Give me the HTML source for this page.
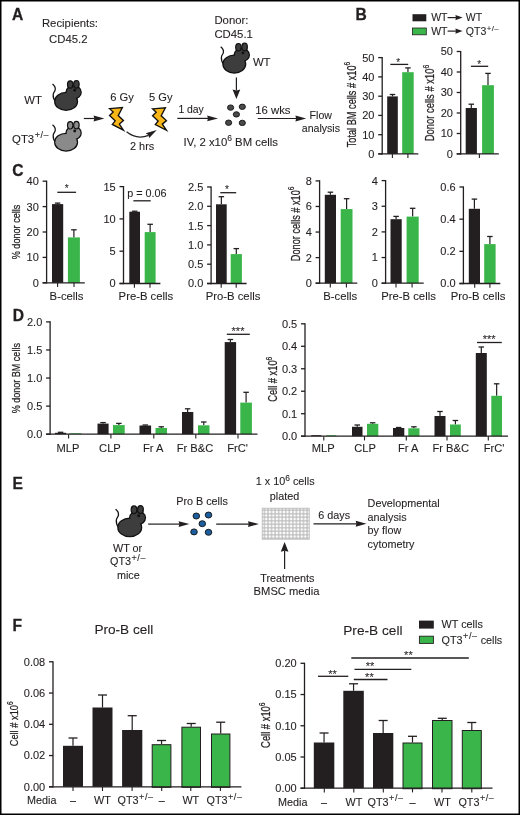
<!DOCTYPE html>
<html><head><meta charset="utf-8"><style>
html,body{margin:0;padding:0;background:#fff;}
svg{display:block;will-change:transform;}
text{font-family:"Liberation Sans", sans-serif;fill:#231f20;stroke:#231f20;stroke-width:0.1px;}
</style></head><body>
<svg width="520" height="815" viewBox="0 0 520 815">
<rect x="0.75" y="0.75" width="518.5" height="813.5" fill="none" stroke="#000" stroke-width="1.5"/>
<text transform="translate(12.0,19.7) scale(1,1)" font-size="15.6" font-weight="bold" style="stroke-width:0.3px">A</text>
<text transform="translate(355.5,19.7) scale(1,1)" font-size="15.6" font-weight="bold" style="stroke-width:0.3px">B</text>
<text transform="translate(12.2,175.9) scale(1,1)" font-size="15.6" font-weight="bold" style="stroke-width:0.3px">C</text>
<text transform="translate(12.8,321.1) scale(1,1)" font-size="15.6" font-weight="bold" style="stroke-width:0.3px">D</text>
<text transform="translate(12.4,489.1) scale(1,1)" font-size="15.6" font-weight="bold" style="stroke-width:0.3px">E</text>
<text transform="translate(12.4,631) scale(1,1)" font-size="15.6" font-weight="bold" style="stroke-width:0.3px">F</text>
<text x="41.9" y="26.9" font-size="11.35" text-anchor="start" font-weight="normal" >Recipients:</text>
<text x="49" y="42.7" font-size="11.35" text-anchor="start" font-weight="normal" >CD45.2</text>
<text x="214.4" y="24" font-size="11.35" text-anchor="start" font-weight="normal" >Donor:</text>
<text x="214.4" y="37.5" font-size="11.35" text-anchor="start" font-weight="normal" >CD45.1</text>
<text x="252.9" y="66.3" font-size="11.35" text-anchor="start" font-weight="normal" >WT</text>
<text x="24.2" y="103.5" font-size="11.35" text-anchor="start" font-weight="normal" >WT</text>
<text x="12.1" y="142.7" font-size="11.35" text-anchor="start" font-weight="normal" >QT3<tspan font-size="9" dy="-4.6" dx="0.5" letter-spacing="0.6">+/–</tspan></text>
<text x="110.2" y="100.5" font-size="11.2" text-anchor="start" font-weight="normal" >6 Gy</text>
<text x="149.0" y="100.5" font-size="11.1" text-anchor="start" font-weight="normal" >5 Gy</text>
<text x="130" y="149.5" font-size="10.9" text-anchor="start" font-weight="normal" >2 hrs</text>
<text x="178.4" y="113.1" font-size="10.4" text-anchor="start" font-weight="normal" >1 day</text>
<text x="255.2" y="114.2" font-size="11.35" text-anchor="start" font-weight="normal" >16 wks</text>
<text x="309.6" y="118.7" font-size="10.55" text-anchor="start" font-weight="normal" >Flow</text>
<text x="301.8" y="132.3" font-size="10.55" text-anchor="start" font-weight="normal" >analysis</text>
<text x="183.5" y="146" font-size="11.35" text-anchor="start" font-weight="normal" >IV, 2 x10<tspan font-size="8.5" dy="-4.6">6</tspan><tspan dy="4.6"> BM cells</tspan></text>
<g transform="translate(52.5,84) scale(1.0)"><path d="M0,0 C2,1.5 3,4 2.7,5.8 C2.4,7.5 0.8,8.5 0.7,10.5 C0.5,12.5 0.8,15 3,17.2" fill="none" stroke="#111" stroke-width="1.25"/><ellipse cx="13.6" cy="17.4" rx="10.8" ry="8.3" fill="#111" stroke="#111" stroke-width="2.5"/><ellipse cx="21.1" cy="8.2" rx="7" ry="6" fill="#111" stroke="#111" stroke-width="2.5"/><ellipse cx="13.6" cy="17.4" rx="10.8" ry="8.3" fill="#3d3d3d"/><ellipse cx="21.1" cy="8.2" rx="7" ry="6" fill="#3d3d3d"/><ellipse cx="17.7" cy="0.5" rx="2.7" ry="3.7" fill="#3d3d3d" stroke="#111" stroke-width="1.2"/><ellipse cx="23.9" cy="0.3" rx="2.75" ry="3.8" fill="#3d3d3d" stroke="#111" stroke-width="1.2"/><circle cx="22.2" cy="6.2" r="1.45" fill="#111"/></g>
<g transform="translate(52.5,124.8) scale(1.0)"><path d="M0,0 C2,1.5 3,4 2.7,5.8 C2.4,7.5 0.8,8.5 0.7,10.5 C0.5,12.5 0.8,15 3,17.2" fill="none" stroke="#111" stroke-width="1.25"/><ellipse cx="13.6" cy="17.4" rx="10.8" ry="8.3" fill="#111" stroke="#111" stroke-width="2.5"/><ellipse cx="21.1" cy="8.2" rx="7" ry="6" fill="#111" stroke="#111" stroke-width="2.5"/><ellipse cx="13.6" cy="17.4" rx="10.8" ry="8.3" fill="#8a8a8a"/><ellipse cx="21.1" cy="8.2" rx="7" ry="6" fill="#8a8a8a"/><ellipse cx="17.7" cy="0.5" rx="2.7" ry="3.7" fill="#8a8a8a" stroke="#111" stroke-width="1.2"/><ellipse cx="23.9" cy="0.3" rx="2.75" ry="3.8" fill="#8a8a8a" stroke="#111" stroke-width="1.2"/><circle cx="22.2" cy="6.2" r="1.45" fill="#111"/></g>
<g transform="translate(220.7,46.7) scale(1.0)"><path d="M0,0 C2,1.5 3,4 2.7,5.8 C2.4,7.5 0.8,8.5 0.7,10.5 C0.5,12.5 0.8,15 3,17.2" fill="none" stroke="#111" stroke-width="1.25"/><ellipse cx="13.6" cy="17.4" rx="10.8" ry="8.3" fill="#111" stroke="#111" stroke-width="2.5"/><ellipse cx="21.1" cy="8.2" rx="7" ry="6" fill="#111" stroke="#111" stroke-width="2.5"/><ellipse cx="13.6" cy="17.4" rx="10.8" ry="8.3" fill="#3d3d3d"/><ellipse cx="21.1" cy="8.2" rx="7" ry="6" fill="#3d3d3d"/><ellipse cx="17.7" cy="0.5" rx="2.7" ry="3.7" fill="#3d3d3d" stroke="#111" stroke-width="1.2"/><ellipse cx="23.9" cy="0.3" rx="2.75" ry="3.8" fill="#3d3d3d" stroke="#111" stroke-width="1.2"/><circle cx="22.2" cy="6.2" r="1.45" fill="#111"/></g>
<path d="M109.56,108.64 L122.39,107.60 L118.21,115.58 L123.44,120.42 L119.35,124.03 L123.44,130.11 L112.32,124.42 L115.17,120.81 L109.56,115.58 L113.17,111.97 Z" fill="#f7b518" stroke="#111" stroke-width="1.35" stroke-linejoin="miter"/>
<path d="M152.56,108.84 L165.39,107.80 L161.21,115.78 L166.44,120.62 L162.35,124.23 L166.44,130.31 L155.32,124.62 L158.17,121.01 L152.56,115.78 L156.18,112.17 Z" fill="#f7b518" stroke="#111" stroke-width="1.35" stroke-linejoin="miter"/>
<line x1="83.8" y1="118.5" x2="94.60000000000001" y2="118.5" stroke="#231f20" stroke-width="1.2"/>
<path d="M104.4,118.5 L93.60000000000001,115.55 L94.30000000000001,118.5 L93.60000000000001,121.45 Z" fill="#231f20"/>
<line x1="177.3" y1="118.4" x2="208.2" y2="118.4" stroke="#231f20" stroke-width="1.2"/>
<path d="M218,118.4 L207.2,115.45 L207.89999999999998,118.4 L207.2,121.35000000000001 Z" fill="#231f20"/>
<line x1="257.8" y1="118.5" x2="296.4" y2="118.5" stroke="#231f20" stroke-width="1.2"/>
<path d="M306.2,118.5 L295.4,115.55 L296.09999999999997,118.5 L295.4,121.45 Z" fill="#231f20"/>
<line x1="236.4" y1="77.4" x2="236.4" y2="90.5" stroke="#231f20" stroke-width="1.2"/>
<path d="M236.4,99.1 L232.55,89.5 L236.4,90.5 L240.25,89.5 Z" fill="#231f20"/>
<path d="M126.6,131.8 Q136.5,140 148.6,135.4" fill="none" stroke="#231f20" stroke-width="1.2"/>
<path d="M156.8,130.1 L145.7,133.2 L148.4,134.9 L149.2,138.1 Z" fill="#231f20"/>
<ellipse cx="230.6" cy="107.6" rx="3.1" ry="2.7" fill="#4a4a4a" stroke="#111" stroke-width="0.9"/>
<ellipse cx="242.3" cy="106.8" rx="3.1" ry="2.7" fill="#4a4a4a" stroke="#111" stroke-width="0.9"/>
<ellipse cx="236.4" cy="114.4" rx="3.1" ry="2.7" fill="#4a4a4a" stroke="#111" stroke-width="0.9"/>
<ellipse cx="228.6" cy="122.7" rx="3.1" ry="2.7" fill="#4a4a4a" stroke="#111" stroke-width="0.9"/>
<ellipse cx="242.3" cy="122.9" rx="3.1" ry="2.7" fill="#4a4a4a" stroke="#111" stroke-width="0.9"/>
<rect x="412.5" y="14.2" width="13.800000000000011" height="7.100000000000001" fill="#231f20"/>
<rect x="412.5" y="28" width="13.800000000000011" height="6.799999999999997" fill="#39b54a" stroke="#231f20" stroke-width="0.8"/>
<text x="431.2" y="21.2" font-size="10.5" text-anchor="start" font-weight="normal" >WT</text>
<text x="465.8" y="21.2" font-size="10.5" text-anchor="start" font-weight="normal" >WT</text>
<path d="M447.6,17.6 L456,17.6" stroke="#231f20" stroke-width="1.2"/>
<path d="M462.6,17.6 L455.4,15 L455.9,17.6 L455.4,20.2 Z" fill="#231f20"/>
<text x="431.2" y="34.7" font-size="10.5" text-anchor="start" font-weight="normal" >WT</text>
<text x="465.8" y="34.7" font-size="10.5" text-anchor="start" font-weight="normal" >QT3<tspan font-size="7.8" dy="-4.2" dx="0.6" letter-spacing="0.35">+/–</tspan></text>
<path d="M447.6,31.1 L456,31.1" stroke="#231f20" stroke-width="1.2"/>
<path d="M462.6,31.1 L455.4,28.5 L455.9,31.1 L455.4,33.7 Z" fill="#231f20"/>
<line x1="392.5" y1="96.4" x2="392.5" y2="94.5" stroke="#231f20" stroke-width="1.2"/>
<line x1="389.75" y1="94.5" x2="395.25" y2="94.5" stroke="#231f20" stroke-width="1.3"/>
<rect x="387.2" y="96.4" width="10.600000000000023" height="57.5" fill="#231f20"/>
<line x1="407.95" y1="72.2" x2="407.95" y2="67.9" stroke="#231f20" stroke-width="1.2"/>
<line x1="405.2" y1="67.9" x2="410.7" y2="67.9" stroke="#231f20" stroke-width="1.3"/>
<rect x="402.2" y="72.2" width="11.5" height="81.7" fill="#39b54a"/>
<line x1="382.2" y1="57.0" x2="382.2" y2="154.55" stroke="#231f20" stroke-width="1.3"/>
<line x1="378.2" y1="57.6" x2="382.2" y2="57.6" stroke="#231f20" stroke-width="1.3"/>
<text x="374.4" y="61.5" font-size="11" text-anchor="end" font-weight="normal" >50</text>
<line x1="378.2" y1="76.9" x2="382.2" y2="76.9" stroke="#231f20" stroke-width="1.3"/>
<text x="374.4" y="80.80000000000001" font-size="11" text-anchor="end" font-weight="normal" >40</text>
<line x1="378.2" y1="96.2" x2="382.2" y2="96.2" stroke="#231f20" stroke-width="1.3"/>
<text x="374.4" y="100.10000000000001" font-size="11" text-anchor="end" font-weight="normal" >30</text>
<line x1="378.2" y1="115.4" x2="382.2" y2="115.4" stroke="#231f20" stroke-width="1.3"/>
<text x="374.4" y="119.30000000000001" font-size="11" text-anchor="end" font-weight="normal" >20</text>
<line x1="378.2" y1="134.7" x2="382.2" y2="134.7" stroke="#231f20" stroke-width="1.3"/>
<text x="374.4" y="138.6" font-size="11" text-anchor="end" font-weight="normal" >10</text>
<line x1="378.2" y1="153.9" x2="382.2" y2="153.9" stroke="#231f20" stroke-width="1.3"/>
<text x="374.4" y="157.8" font-size="11" text-anchor="end" font-weight="normal" >0</text>
<line x1="378.2" y1="153.9" x2="418.3" y2="153.9" stroke="#231f20" stroke-width="1.3"/>
<line x1="392.4" y1="153.9" x2="392.4" y2="158.1" stroke="#231f20" stroke-width="1.1"/>
<line x1="407.9" y1="153.9" x2="407.9" y2="158.1" stroke="#231f20" stroke-width="1.1"/>
<line x1="390.3" y1="64.4" x2="408.2" y2="64.4" stroke="#231f20" stroke-width="1.3"/>
<text x="398.2" y="65.80000000000001" font-size="10" text-anchor="middle" font-weight="normal" >*</text>
<text transform="translate(355.9,147.3) rotate(-90)" font-size="13" textLength="85.50000000000001" lengthAdjust="spacingAndGlyphs" style="stroke-width:0.25px">Total BM cells # x10<tspan font-size="9.4" dy="-5.5">6</tspan></text>
<line x1="471.29999999999995" y1="108" x2="471.29999999999995" y2="104.2" stroke="#231f20" stroke-width="1.2"/>
<line x1="468.54999999999995" y1="104.2" x2="474.04999999999995" y2="104.2" stroke="#231f20" stroke-width="1.3"/>
<rect x="465.7" y="108" width="11.199999999999989" height="45.900000000000006" fill="#231f20"/>
<line x1="488.0" y1="85.2" x2="488.0" y2="73.4" stroke="#231f20" stroke-width="1.2"/>
<line x1="485.25" y1="73.4" x2="490.75" y2="73.4" stroke="#231f20" stroke-width="1.3"/>
<rect x="482.1" y="85.2" width="11.799999999999955" height="68.7" fill="#39b54a"/>
<line x1="460.7" y1="50.9" x2="460.7" y2="154.55" stroke="#231f20" stroke-width="1.3"/>
<line x1="456.7" y1="51.5" x2="460.7" y2="51.5" stroke="#231f20" stroke-width="1.3"/>
<text x="452.9" y="55.4" font-size="11" text-anchor="end" font-weight="normal" >50</text>
<line x1="456.7" y1="72.0" x2="460.7" y2="72.0" stroke="#231f20" stroke-width="1.3"/>
<text x="452.9" y="75.9" font-size="11" text-anchor="end" font-weight="normal" >40</text>
<line x1="456.7" y1="92.5" x2="460.7" y2="92.5" stroke="#231f20" stroke-width="1.3"/>
<text x="452.9" y="96.4" font-size="11" text-anchor="end" font-weight="normal" >30</text>
<line x1="456.7" y1="113.0" x2="460.7" y2="113.0" stroke="#231f20" stroke-width="1.3"/>
<text x="452.9" y="116.9" font-size="11" text-anchor="end" font-weight="normal" >20</text>
<line x1="456.7" y1="133.5" x2="460.7" y2="133.5" stroke="#231f20" stroke-width="1.3"/>
<text x="452.9" y="137.4" font-size="11" text-anchor="end" font-weight="normal" >10</text>
<line x1="456.7" y1="153.9" x2="460.7" y2="153.9" stroke="#231f20" stroke-width="1.3"/>
<text x="452.9" y="157.8" font-size="11" text-anchor="end" font-weight="normal" >0</text>
<line x1="456.7" y1="153.9" x2="498.8" y2="153.9" stroke="#231f20" stroke-width="1.3"/>
<line x1="479.4" y1="153.9" x2="479.4" y2="158.1" stroke="#231f20" stroke-width="1.1"/>
<line x1="470.9" y1="66.3" x2="488.2" y2="66.3" stroke="#231f20" stroke-width="1.3"/>
<text x="479.2" y="68.30000000000001" font-size="10" text-anchor="middle" font-weight="normal" >*</text>
<text transform="translate(434.2,141.3) rotate(-90)" font-size="12.6" textLength="76.50000000000001" lengthAdjust="spacingAndGlyphs" style="stroke-width:0.25px">Donor cells # x10<tspan font-size="9.1" dy="-5.3">6</tspan></text>
<line x1="57.6" y1="204.1" x2="57.6" y2="203.1" stroke="#231f20" stroke-width="1.2"/>
<line x1="54.85" y1="203.1" x2="60.35" y2="203.1" stroke="#231f20" stroke-width="1.3"/>
<rect x="52" y="204.1" width="11.200000000000003" height="78.70000000000002" fill="#231f20"/>
<line x1="73.9" y1="237.4" x2="73.9" y2="229.8" stroke="#231f20" stroke-width="1.2"/>
<line x1="71.15" y1="229.8" x2="76.65" y2="229.8" stroke="#231f20" stroke-width="1.3"/>
<rect x="67.9" y="237.4" width="12.0" height="45.400000000000006" fill="#39b54a"/>
<line x1="46.6" y1="180.6" x2="46.6" y2="283.45" stroke="#231f20" stroke-width="1.3"/>
<line x1="42.6" y1="181.2" x2="46.6" y2="181.2" stroke="#231f20" stroke-width="1.3"/>
<text x="38.8" y="185.1" font-size="11" text-anchor="end" font-weight="normal" >40</text>
<line x1="42.6" y1="206.6" x2="46.6" y2="206.6" stroke="#231f20" stroke-width="1.3"/>
<text x="38.8" y="210.5" font-size="11" text-anchor="end" font-weight="normal" >30</text>
<line x1="42.6" y1="232.0" x2="46.6" y2="232.0" stroke="#231f20" stroke-width="1.3"/>
<text x="38.8" y="235.9" font-size="11" text-anchor="end" font-weight="normal" >20</text>
<line x1="42.6" y1="257.4" x2="46.6" y2="257.4" stroke="#231f20" stroke-width="1.3"/>
<text x="38.8" y="261.29999999999995" font-size="11" text-anchor="end" font-weight="normal" >10</text>
<line x1="42.6" y1="282.8" x2="46.6" y2="282.8" stroke="#231f20" stroke-width="1.3"/>
<text x="38.8" y="286.7" font-size="11" text-anchor="end" font-weight="normal" >0</text>
<line x1="42.6" y1="282.8" x2="84.8" y2="282.8" stroke="#231f20" stroke-width="1.3"/>
<line x1="57.6" y1="282.8" x2="57.6" y2="287.0" stroke="#231f20" stroke-width="1.1"/>
<line x1="74" y1="282.8" x2="74" y2="287.0" stroke="#231f20" stroke-width="1.1"/>
<line x1="57.3" y1="192.3" x2="76.1" y2="192.3" stroke="#231f20" stroke-width="1.3"/>
<text x="66.7" y="192.4" font-size="10" text-anchor="middle" font-weight="normal" >*</text>
<text transform="translate(19.6,259.3) rotate(-90)" font-size="11.6" textLength="54.70000000000002" lengthAdjust="spacingAndGlyphs" style="stroke-width:0.25px">% donor cells</text>
<line x1="134.65" y1="211.7" x2="134.65" y2="211.2" stroke="#231f20" stroke-width="1.2"/>
<line x1="131.9" y1="211.2" x2="137.4" y2="211.2" stroke="#231f20" stroke-width="1.3"/>
<rect x="129.3" y="211.7" width="10.699999999999989" height="71.80000000000001" fill="#231f20"/>
<line x1="150.14999999999998" y1="232.1" x2="150.14999999999998" y2="224.3" stroke="#231f20" stroke-width="1.2"/>
<line x1="147.39999999999998" y1="224.3" x2="152.89999999999998" y2="224.3" stroke="#231f20" stroke-width="1.3"/>
<rect x="144.7" y="232.1" width="10.900000000000006" height="51.400000000000006" fill="#39b54a"/>
<line x1="123.5" y1="186.0" x2="123.5" y2="284.15" stroke="#231f20" stroke-width="1.3"/>
<line x1="119.5" y1="186.6" x2="123.5" y2="186.6" stroke="#231f20" stroke-width="1.3"/>
<text x="115.7" y="190.5" font-size="11" text-anchor="end" font-weight="normal" >15</text>
<line x1="119.5" y1="218.9" x2="123.5" y2="218.9" stroke="#231f20" stroke-width="1.3"/>
<text x="115.7" y="222.8" font-size="11" text-anchor="end" font-weight="normal" >10</text>
<line x1="119.5" y1="251.2" x2="123.5" y2="251.2" stroke="#231f20" stroke-width="1.3"/>
<text x="115.7" y="255.1" font-size="11" text-anchor="end" font-weight="normal" >5</text>
<line x1="119.5" y1="283.5" x2="123.5" y2="283.5" stroke="#231f20" stroke-width="1.3"/>
<text x="115.7" y="287.4" font-size="11" text-anchor="end" font-weight="normal" >0</text>
<line x1="119.5" y1="283.5" x2="160.4" y2="283.5" stroke="#231f20" stroke-width="1.3"/>
<line x1="134.4" y1="283.5" x2="134.4" y2="287.7" stroke="#231f20" stroke-width="1.1"/>
<line x1="150" y1="283.5" x2="150" y2="287.7" stroke="#231f20" stroke-width="1.1"/>
<line x1="133.4" y1="200.8" x2="150.7" y2="200.8" stroke="#231f20" stroke-width="1.3"/>
<text x="127.3" y="197" font-size="10.8" text-anchor="start" font-weight="normal" >p = 0.06</text>
<line x1="221.35" y1="204.3" x2="221.35" y2="196.7" stroke="#231f20" stroke-width="1.2"/>
<line x1="218.6" y1="196.7" x2="224.1" y2="196.7" stroke="#231f20" stroke-width="1.3"/>
<rect x="216" y="204.3" width="10.699999999999989" height="79.19999999999999" fill="#231f20"/>
<line x1="236.3" y1="254.1" x2="236.3" y2="248.6" stroke="#231f20" stroke-width="1.2"/>
<line x1="233.55" y1="248.6" x2="239.05" y2="248.6" stroke="#231f20" stroke-width="1.3"/>
<rect x="230.7" y="254.1" width="11.200000000000017" height="29.400000000000006" fill="#39b54a"/>
<line x1="211.1" y1="186.4" x2="211.1" y2="284.15" stroke="#231f20" stroke-width="1.3"/>
<line x1="207.1" y1="187.0" x2="211.1" y2="187.0" stroke="#231f20" stroke-width="1.3"/>
<text x="203.3" y="190.9" font-size="11" text-anchor="end" font-weight="normal" >2.5</text>
<line x1="207.1" y1="206.3" x2="211.1" y2="206.3" stroke="#231f20" stroke-width="1.3"/>
<text x="203.3" y="210.20000000000002" font-size="11" text-anchor="end" font-weight="normal" >2.0</text>
<line x1="207.1" y1="225.6" x2="211.1" y2="225.6" stroke="#231f20" stroke-width="1.3"/>
<text x="203.3" y="229.5" font-size="11" text-anchor="end" font-weight="normal" >1.5</text>
<line x1="207.1" y1="244.9" x2="211.1" y2="244.9" stroke="#231f20" stroke-width="1.3"/>
<text x="203.3" y="248.8" font-size="11" text-anchor="end" font-weight="normal" >1.0</text>
<line x1="207.1" y1="264.2" x2="211.1" y2="264.2" stroke="#231f20" stroke-width="1.3"/>
<text x="203.3" y="268.09999999999997" font-size="11" text-anchor="end" font-weight="normal" >0.5</text>
<line x1="207.1" y1="283.5" x2="211.1" y2="283.5" stroke="#231f20" stroke-width="1.3"/>
<text x="203.3" y="287.4" font-size="11" text-anchor="end" font-weight="normal" >0.0</text>
<line x1="207.1" y1="283.5" x2="246.6" y2="283.5" stroke="#231f20" stroke-width="1.3"/>
<line x1="221.2" y1="283.5" x2="221.2" y2="287.7" stroke="#231f20" stroke-width="1.1"/>
<line x1="236.2" y1="283.5" x2="236.2" y2="287.7" stroke="#231f20" stroke-width="1.1"/>
<line x1="220.3" y1="192.7" x2="236.2" y2="192.7" stroke="#231f20" stroke-width="1.3"/>
<text x="227" y="192.70000000000002" font-size="10" text-anchor="middle" font-weight="normal" >*</text>
<line x1="330.4" y1="194.8" x2="330.4" y2="192.2" stroke="#231f20" stroke-width="1.2"/>
<line x1="327.65" y1="192.2" x2="333.15" y2="192.2" stroke="#231f20" stroke-width="1.3"/>
<rect x="324.8" y="194.8" width="11.199999999999989" height="88.39999999999998" fill="#231f20"/>
<line x1="346.6" y1="209.1" x2="346.6" y2="198.7" stroke="#231f20" stroke-width="1.2"/>
<line x1="343.85" y1="198.7" x2="349.35" y2="198.7" stroke="#231f20" stroke-width="1.3"/>
<rect x="340.7" y="209.1" width="11.800000000000011" height="74.1" fill="#39b54a"/>
<line x1="319.6" y1="180.3" x2="319.6" y2="283.84999999999997" stroke="#231f20" stroke-width="1.3"/>
<line x1="315.6" y1="180.9" x2="319.6" y2="180.9" stroke="#231f20" stroke-width="1.3"/>
<text x="311.8" y="184.8" font-size="11" text-anchor="end" font-weight="normal" >8</text>
<line x1="315.6" y1="206.47" x2="319.6" y2="206.47" stroke="#231f20" stroke-width="1.3"/>
<text x="311.8" y="210.37" font-size="11" text-anchor="end" font-weight="normal" >6</text>
<line x1="315.6" y1="232.05" x2="319.6" y2="232.05" stroke="#231f20" stroke-width="1.3"/>
<text x="311.8" y="235.95000000000002" font-size="11" text-anchor="end" font-weight="normal" >4</text>
<line x1="315.6" y1="257.62" x2="319.6" y2="257.62" stroke="#231f20" stroke-width="1.3"/>
<text x="311.8" y="261.52" font-size="11" text-anchor="end" font-weight="normal" >2</text>
<line x1="315.6" y1="283.2" x2="319.6" y2="283.2" stroke="#231f20" stroke-width="1.3"/>
<text x="311.8" y="287.09999999999997" font-size="11" text-anchor="end" font-weight="normal" >0</text>
<line x1="315.6" y1="283.2" x2="357.3" y2="283.2" stroke="#231f20" stroke-width="1.3"/>
<line x1="330.3" y1="283.2" x2="330.3" y2="287.4" stroke="#231f20" stroke-width="1.1"/>
<line x1="346.4" y1="283.2" x2="346.4" y2="287.4" stroke="#231f20" stroke-width="1.1"/>
<text transform="translate(299.9,261.2) rotate(-90)" font-size="13" textLength="74.69999999999999" lengthAdjust="spacingAndGlyphs" style="stroke-width:0.25px">Donor cells # x10<tspan font-size="9.4" dy="-5.5">6</tspan></text>
<line x1="396.1" y1="219.2" x2="396.1" y2="216.4" stroke="#231f20" stroke-width="1.2"/>
<line x1="393.35" y1="216.4" x2="398.85" y2="216.4" stroke="#231f20" stroke-width="1.3"/>
<rect x="390.5" y="219.2" width="11.199999999999989" height="64.0" fill="#231f20"/>
<line x1="412.65" y1="216.6" x2="412.65" y2="208.3" stroke="#231f20" stroke-width="1.2"/>
<line x1="409.9" y1="208.3" x2="415.4" y2="208.3" stroke="#231f20" stroke-width="1.3"/>
<rect x="406.6" y="216.6" width="12.099999999999966" height="66.6" fill="#39b54a"/>
<line x1="385.6" y1="180.0" x2="385.6" y2="283.84999999999997" stroke="#231f20" stroke-width="1.3"/>
<line x1="381.6" y1="180.6" x2="385.6" y2="180.6" stroke="#231f20" stroke-width="1.3"/>
<text x="377.8" y="184.5" font-size="11" text-anchor="end" font-weight="normal" >4</text>
<line x1="381.6" y1="206.25" x2="385.6" y2="206.25" stroke="#231f20" stroke-width="1.3"/>
<text x="377.8" y="210.15" font-size="11" text-anchor="end" font-weight="normal" >3</text>
<line x1="381.6" y1="231.9" x2="385.6" y2="231.9" stroke="#231f20" stroke-width="1.3"/>
<text x="377.8" y="235.8" font-size="11" text-anchor="end" font-weight="normal" >2</text>
<line x1="381.6" y1="257.55" x2="385.6" y2="257.55" stroke="#231f20" stroke-width="1.3"/>
<text x="377.8" y="261.45" font-size="11" text-anchor="end" font-weight="normal" >1</text>
<line x1="381.6" y1="283.2" x2="385.6" y2="283.2" stroke="#231f20" stroke-width="1.3"/>
<text x="377.8" y="287.09999999999997" font-size="11" text-anchor="end" font-weight="normal" >0</text>
<line x1="381.6" y1="283.2" x2="423.7" y2="283.2" stroke="#231f20" stroke-width="1.3"/>
<line x1="396" y1="283.2" x2="396" y2="287.4" stroke="#231f20" stroke-width="1.1"/>
<line x1="412.1" y1="283.2" x2="412.1" y2="287.4" stroke="#231f20" stroke-width="1.1"/>
<line x1="474.4" y1="208.8" x2="474.4" y2="199.1" stroke="#231f20" stroke-width="1.2"/>
<line x1="471.65" y1="199.1" x2="477.15" y2="199.1" stroke="#231f20" stroke-width="1.3"/>
<rect x="468.8" y="208.8" width="11.199999999999989" height="74.70999999999998" fill="#231f20"/>
<line x1="489.9" y1="244.1" x2="489.9" y2="236.5" stroke="#231f20" stroke-width="1.2"/>
<line x1="487.15" y1="236.5" x2="492.65" y2="236.5" stroke="#231f20" stroke-width="1.3"/>
<rect x="484.2" y="244.1" width="11.400000000000034" height="39.41" fill="#39b54a"/>
<line x1="463.4" y1="186.4" x2="463.4" y2="284.15999999999997" stroke="#231f20" stroke-width="1.3"/>
<line x1="459.4" y1="187.0" x2="463.4" y2="187.0" stroke="#231f20" stroke-width="1.3"/>
<text x="455.59999999999997" y="190.9" font-size="11" text-anchor="end" font-weight="normal" >0.6</text>
<line x1="459.4" y1="219.17" x2="463.4" y2="219.17" stroke="#231f20" stroke-width="1.3"/>
<text x="455.59999999999997" y="223.07" font-size="11" text-anchor="end" font-weight="normal" >0.4</text>
<line x1="459.4" y1="251.34" x2="463.4" y2="251.34" stroke="#231f20" stroke-width="1.3"/>
<text x="455.59999999999997" y="255.24" font-size="11" text-anchor="end" font-weight="normal" >0.2</text>
<line x1="459.4" y1="283.51" x2="463.4" y2="283.51" stroke="#231f20" stroke-width="1.3"/>
<text x="455.59999999999997" y="287.40999999999997" font-size="11" text-anchor="end" font-weight="normal" >0.0</text>
<line x1="459.4" y1="283.51" x2="500.3" y2="283.51" stroke="#231f20" stroke-width="1.3"/>
<line x1="474.7" y1="283.51" x2="474.7" y2="287.71" stroke="#231f20" stroke-width="1.1"/>
<line x1="489.9" y1="283.51" x2="489.9" y2="287.71" stroke="#231f20" stroke-width="1.1"/>
<text x="49.6" y="299.9" font-size="11.3" text-anchor="start" font-weight="normal" >B-cells</text>
<text x="118.60000000000001" y="299.9" font-size="11.3" text-anchor="start" font-weight="normal" >Pre-B cells</text>
<text x="205.70000000000002" y="299.9" font-size="11.3" text-anchor="start" font-weight="normal" >Pro-B cells</text>
<text x="323.2" y="299.9" font-size="11.3" text-anchor="start" font-weight="normal" >B-cells</text>
<text x="381.2" y="299.9" font-size="11.3" text-anchor="start" font-weight="normal" >Pre-B cells</text>
<text x="450.7" y="299.9" font-size="11.3" text-anchor="start" font-weight="normal" >Pro-B cells</text>
<line x1="60.6" y1="432.8" x2="60.6" y2="432.3" stroke="#231f20" stroke-width="1.2"/>
<line x1="57.85" y1="432.3" x2="63.35" y2="432.3" stroke="#231f20" stroke-width="1.3"/>
<rect x="55" y="432.8" width="11.200000000000003" height="1.3799999999999955" fill="#231f20"/>
<rect x="69.7" y="433.3" width="11.599999999999994" height="0.8799999999999955" fill="#39b54a"/>
<line x1="103.05" y1="423.6" x2="103.05" y2="422.6" stroke="#231f20" stroke-width="1.2"/>
<line x1="100.3" y1="422.6" x2="105.8" y2="422.6" stroke="#231f20" stroke-width="1.3"/>
<rect x="97.5" y="423.6" width="11.099999999999994" height="10.579999999999984" fill="#231f20"/>
<line x1="118.85" y1="425.1" x2="118.85" y2="423.4" stroke="#231f20" stroke-width="1.2"/>
<line x1="116.1" y1="423.4" x2="121.6" y2="423.4" stroke="#231f20" stroke-width="1.3"/>
<rect x="113" y="425.1" width="11.700000000000003" height="9.079999999999984" fill="#39b54a"/>
<line x1="145.3" y1="425.5" x2="145.3" y2="425" stroke="#231f20" stroke-width="1.2"/>
<line x1="142.55" y1="425" x2="148.05" y2="425" stroke="#231f20" stroke-width="1.3"/>
<rect x="139.5" y="425.5" width="11.599999999999994" height="8.680000000000007" fill="#231f20"/>
<line x1="161.25" y1="428" x2="161.25" y2="426.8" stroke="#231f20" stroke-width="1.2"/>
<line x1="158.5" y1="426.8" x2="164.0" y2="426.8" stroke="#231f20" stroke-width="1.3"/>
<rect x="155.5" y="428" width="11.5" height="6.180000000000007" fill="#39b54a"/>
<line x1="187.65" y1="412" x2="187.65" y2="408.8" stroke="#231f20" stroke-width="1.2"/>
<line x1="184.9" y1="408.8" x2="190.4" y2="408.8" stroke="#231f20" stroke-width="1.3"/>
<rect x="182" y="412" width="11.300000000000011" height="22.180000000000007" fill="#231f20"/>
<line x1="203.75" y1="425.3" x2="203.75" y2="422" stroke="#231f20" stroke-width="1.2"/>
<line x1="201.0" y1="422" x2="206.5" y2="422" stroke="#231f20" stroke-width="1.3"/>
<rect x="198" y="425.3" width="11.5" height="8.879999999999995" fill="#39b54a"/>
<line x1="230.39999999999998" y1="342.1" x2="230.39999999999998" y2="339.5" stroke="#231f20" stroke-width="1.2"/>
<line x1="227.64999999999998" y1="339.5" x2="233.14999999999998" y2="339.5" stroke="#231f20" stroke-width="1.3"/>
<rect x="224.7" y="342.1" width="11.400000000000006" height="92.07999999999998" fill="#231f20"/>
<line x1="246.10000000000002" y1="402.6" x2="246.10000000000002" y2="392.3" stroke="#231f20" stroke-width="1.2"/>
<line x1="243.35000000000002" y1="392.3" x2="248.85000000000002" y2="392.3" stroke="#231f20" stroke-width="1.3"/>
<rect x="240.3" y="402.6" width="11.599999999999994" height="31.579999999999984" fill="#39b54a"/>
<line x1="50.1" y1="321.29999999999995" x2="50.1" y2="434.83" stroke="#231f20" stroke-width="1.3"/>
<line x1="46.1" y1="321.9" x2="50.1" y2="321.9" stroke="#231f20" stroke-width="1.3"/>
<text x="42.3" y="325.79999999999995" font-size="11" text-anchor="end" font-weight="normal" >2.0</text>
<line x1="46.1" y1="349.97" x2="50.1" y2="349.97" stroke="#231f20" stroke-width="1.3"/>
<text x="42.3" y="353.87" font-size="11" text-anchor="end" font-weight="normal" >1.5</text>
<line x1="46.1" y1="378.04" x2="50.1" y2="378.04" stroke="#231f20" stroke-width="1.3"/>
<text x="42.3" y="381.94" font-size="11" text-anchor="end" font-weight="normal" >1.0</text>
<line x1="46.1" y1="406.11" x2="50.1" y2="406.11" stroke="#231f20" stroke-width="1.3"/>
<text x="42.3" y="410.01" font-size="11" text-anchor="end" font-weight="normal" >0.5</text>
<line x1="46.1" y1="434.18" x2="50.1" y2="434.18" stroke="#231f20" stroke-width="1.3"/>
<text x="42.3" y="438.08" font-size="11" text-anchor="end" font-weight="normal" >0.0</text>
<line x1="46.1" y1="434.18" x2="257.5" y2="434.18" stroke="#231f20" stroke-width="1.3"/>
<line x1="68.6" y1="434.18" x2="68.6" y2="438.38" stroke="#231f20" stroke-width="1.1"/>
<line x1="110.9" y1="434.18" x2="110.9" y2="438.38" stroke="#231f20" stroke-width="1.1"/>
<line x1="153.8" y1="434.18" x2="153.8" y2="438.38" stroke="#231f20" stroke-width="1.1"/>
<line x1="195.8" y1="434.18" x2="195.8" y2="438.38" stroke="#231f20" stroke-width="1.1"/>
<line x1="238" y1="434.18" x2="238" y2="438.38" stroke="#231f20" stroke-width="1.1"/>
<line x1="226.8" y1="334.3" x2="249.8" y2="334.3" stroke="#231f20" stroke-width="1.3"/>
<text x="238" y="335.18" font-size="11" text-anchor="middle" font-weight="normal" >***</text>
<text transform="translate(20.3,413.2) rotate(-90)" font-size="11.4" textLength="70.09999999999997" lengthAdjust="spacingAndGlyphs" style="stroke-width:0.25px">% donor BM cells</text>
<text x="56.5" y="451.5" font-size="11.15" text-anchor="start" font-weight="normal" >MLP</text>
<text x="99.10000000000001" y="451.5" font-size="11.15" text-anchor="start" font-weight="normal" >CLP</text>
<text x="143.0" y="451.5" font-size="11.15" text-anchor="start" font-weight="normal" >Fr A</text>
<text x="176.7" y="451.5" font-size="11.15" text-anchor="start" font-weight="normal" >Fr B&amp;C</text>
<text x="227.2" y="451.5" font-size="11.15" text-anchor="start" font-weight="normal" >FrC'</text>
<rect x="311.3" y="435.2" width="10.0" height="1.0" fill="#231f20"/>
<rect x="326.3" y="435.3" width="10.0" height="0.8999999999999773" fill="#39b54a"/>
<line x1="357.25" y1="426.8" x2="357.25" y2="425" stroke="#231f20" stroke-width="1.2"/>
<line x1="354.5" y1="425" x2="360.0" y2="425" stroke="#231f20" stroke-width="1.3"/>
<rect x="352" y="426.8" width="10.5" height="9.399999999999977" fill="#231f20"/>
<line x1="372.65" y1="423.8" x2="372.65" y2="422.8" stroke="#231f20" stroke-width="1.2"/>
<line x1="369.9" y1="422.8" x2="375.4" y2="422.8" stroke="#231f20" stroke-width="1.3"/>
<rect x="367" y="423.8" width="11.300000000000011" height="12.399999999999977" fill="#39b54a"/>
<line x1="398.65" y1="428" x2="398.65" y2="427.5" stroke="#231f20" stroke-width="1.2"/>
<line x1="395.9" y1="427.5" x2="401.4" y2="427.5" stroke="#231f20" stroke-width="1.3"/>
<rect x="393" y="428" width="11.300000000000011" height="8.199999999999989" fill="#231f20"/>
<line x1="413.9" y1="428.3" x2="413.9" y2="426.8" stroke="#231f20" stroke-width="1.2"/>
<line x1="411.15" y1="426.8" x2="416.65" y2="426.8" stroke="#231f20" stroke-width="1.3"/>
<rect x="408.3" y="428.3" width="11.199999999999989" height="7.899999999999977" fill="#39b54a"/>
<line x1="440.0" y1="416" x2="440.0" y2="411.5" stroke="#231f20" stroke-width="1.2"/>
<line x1="437.25" y1="411.5" x2="442.75" y2="411.5" stroke="#231f20" stroke-width="1.3"/>
<rect x="434.5" y="416" width="11.0" height="20.19999999999999" fill="#231f20"/>
<line x1="455.4" y1="424.5" x2="455.4" y2="420.5" stroke="#231f20" stroke-width="1.2"/>
<line x1="452.65" y1="420.5" x2="458.15" y2="420.5" stroke="#231f20" stroke-width="1.3"/>
<rect x="450" y="424.5" width="10.800000000000011" height="11.699999999999989" fill="#39b54a"/>
<line x1="481.3" y1="353" x2="481.3" y2="347" stroke="#231f20" stroke-width="1.2"/>
<line x1="478.55" y1="347" x2="484.05" y2="347" stroke="#231f20" stroke-width="1.3"/>
<rect x="475.8" y="353" width="11.0" height="83.19999999999999" fill="#231f20"/>
<line x1="496.65" y1="395.8" x2="496.65" y2="383.8" stroke="#231f20" stroke-width="1.2"/>
<line x1="493.9" y1="383.8" x2="499.4" y2="383.8" stroke="#231f20" stroke-width="1.3"/>
<rect x="491.3" y="395.8" width="10.699999999999989" height="40.39999999999998" fill="#39b54a"/>
<line x1="305" y1="323.2" x2="305" y2="436.84999999999997" stroke="#231f20" stroke-width="1.3"/>
<line x1="301" y1="323.8" x2="305" y2="323.8" stroke="#231f20" stroke-width="1.3"/>
<text x="297.2" y="327.7" font-size="11" text-anchor="end" font-weight="normal" >0.5</text>
<line x1="301" y1="346.28" x2="305" y2="346.28" stroke="#231f20" stroke-width="1.3"/>
<text x="297.2" y="350.17999999999995" font-size="11" text-anchor="end" font-weight="normal" >0.4</text>
<line x1="301" y1="368.76" x2="305" y2="368.76" stroke="#231f20" stroke-width="1.3"/>
<text x="297.2" y="372.65999999999997" font-size="11" text-anchor="end" font-weight="normal" >0.3</text>
<line x1="301" y1="391.24" x2="305" y2="391.24" stroke="#231f20" stroke-width="1.3"/>
<text x="297.2" y="395.14" font-size="11" text-anchor="end" font-weight="normal" >0.2</text>
<line x1="301" y1="413.72" x2="305" y2="413.72" stroke="#231f20" stroke-width="1.3"/>
<text x="297.2" y="417.62" font-size="11" text-anchor="end" font-weight="normal" >0.1</text>
<line x1="301" y1="436.2" x2="305" y2="436.2" stroke="#231f20" stroke-width="1.3"/>
<text x="297.2" y="440.09999999999997" font-size="11" text-anchor="end" font-weight="normal" >0.0</text>
<line x1="301" y1="436.2" x2="508" y2="436.2" stroke="#231f20" stroke-width="1.3"/>
<line x1="323.8" y1="436.2" x2="323.8" y2="440.4" stroke="#231f20" stroke-width="1.1"/>
<line x1="364.5" y1="436.2" x2="364.5" y2="440.4" stroke="#231f20" stroke-width="1.1"/>
<line x1="406.3" y1="436.2" x2="406.3" y2="440.4" stroke="#231f20" stroke-width="1.1"/>
<line x1="447" y1="436.2" x2="447" y2="440.4" stroke="#231f20" stroke-width="1.1"/>
<line x1="488.3" y1="436.2" x2="488.3" y2="440.4" stroke="#231f20" stroke-width="1.1"/>
<line x1="477" y1="342.5" x2="501.8" y2="342.5" stroke="#231f20" stroke-width="1.3"/>
<text x="489.2" y="342.68" font-size="11" text-anchor="middle" font-weight="normal" >***</text>
<text transform="translate(276.9,401.8) rotate(-90)" font-size="12.3" textLength="45.10000000000002" lengthAdjust="spacingAndGlyphs" style="stroke-width:0.25px">Cell # x10<tspan font-size="8.9" dy="-5.2">6</tspan></text>
<text x="311.7" y="452.4" font-size="11.15" text-anchor="start" font-weight="normal" >MLP</text>
<text x="354.2" y="452.4" font-size="11.15" text-anchor="start" font-weight="normal" >CLP</text>
<text x="398.0" y="452.4" font-size="11.15" text-anchor="start" font-weight="normal" >Fr A</text>
<text x="432.5" y="452.4" font-size="11.15" text-anchor="start" font-weight="normal" >Fr B&amp;C</text>
<text x="483.7" y="452.4" font-size="11.15" text-anchor="start" font-weight="normal" >FrC'</text>
<g transform="translate(115.6,509.3) scale(1.04)"><path d="M0,0 C2,1.5 3,4 2.7,5.8 C2.4,7.5 0.8,8.5 0.7,10.5 C0.5,12.5 0.8,15 3,17.2" fill="none" stroke="#111" stroke-width="1.25"/><ellipse cx="13.6" cy="17.4" rx="10.8" ry="8.3" fill="#111" stroke="#111" stroke-width="2.5"/><ellipse cx="21.1" cy="8.2" rx="7" ry="6" fill="#111" stroke="#111" stroke-width="2.5"/><ellipse cx="13.6" cy="17.4" rx="10.8" ry="8.3" fill="#3d3d3d"/><ellipse cx="21.1" cy="8.2" rx="7" ry="6" fill="#3d3d3d"/><ellipse cx="17.7" cy="0.5" rx="2.7" ry="3.7" fill="#3d3d3d" stroke="#111" stroke-width="1.2"/><ellipse cx="23.9" cy="0.3" rx="2.75" ry="3.8" fill="#3d3d3d" stroke="#111" stroke-width="1.2"/><circle cx="22.2" cy="6.2" r="1.45" fill="#111"/></g>
<line x1="148.1" y1="524.1" x2="179.6" y2="524.1" stroke="#231f20" stroke-width="1.2"/>
<path d="M189.4,524.1 L178.6,521.15 L179.29999999999998,524.1 L178.6,527.0500000000001 Z" fill="#231f20"/>
<ellipse cx="196.3" cy="516" rx="3.3" ry="3.0" fill="#1d5f9e" stroke="#111" stroke-width="0.9"/>
<ellipse cx="208.5" cy="515" rx="3.3" ry="3.0" fill="#1d5f9e" stroke="#111" stroke-width="0.9"/>
<ellipse cx="202.3" cy="523.7" rx="3.3" ry="3.0" fill="#1d5f9e" stroke="#111" stroke-width="0.9"/>
<ellipse cx="194" cy="531.9" rx="3.3" ry="3.0" fill="#1d5f9e" stroke="#111" stroke-width="0.9"/>
<ellipse cx="208.5" cy="532.3" rx="3.3" ry="3.0" fill="#1d5f9e" stroke="#111" stroke-width="0.9"/>
<line x1="216.2" y1="524.1" x2="249.0" y2="524.1" stroke="#231f20" stroke-width="1.2"/>
<path d="M258.8,524.1 L248.0,521.15 L248.7,524.1 L248.0,527.0500000000001 Z" fill="#231f20"/>
<text x="176.2" y="505.4" font-size="10.8" text-anchor="start" font-weight="normal" >Pro B cells</text>
<defs><pattern id="wells" x="264.45" y="510.25" width="3.55" height="3.5" patternUnits="userSpaceOnUse"><rect width="3.55" height="3.5" fill="#bbbbbb"/><rect x="0.6" y="0.6" width="2.35" height="2.3" fill="#fff"/></pattern></defs>
<rect x="262.2" y="508.2" width="47" height="31" fill="url(#wells)" stroke="#b4b4b4" stroke-width="0.8"/>
<text x="255.8" y="485.4" font-size="10.8" text-anchor="start" font-weight="normal" >1 x 10<tspan font-size="8.5" dy="-4.6">6</tspan><tspan dy="4.6"> cells</tspan></text>
<text x="269.8" y="499.8" font-size="10.8" text-anchor="start" font-weight="normal" >plated</text>
<line x1="284.6" y1="569" x2="284.6" y2="550.7" stroke="#231f20" stroke-width="1.2"/>
<path d="M284.6,542.1 L280.75,551.7 L284.6,550.7 L288.45000000000005,551.7 Z" fill="#231f20"/>
<text x="260.2" y="581.5" font-size="10.8" text-anchor="start" font-weight="normal" >Treatments</text>
<text x="253.6" y="594.7" font-size="11.2" text-anchor="start" font-weight="normal" >BMSC media</text>
<text x="318.3" y="518.5" font-size="10.8" text-anchor="start" font-weight="normal" >6 days</text>
<line x1="313.5" y1="523.8" x2="356.7" y2="523.8" stroke="#231f20" stroke-width="1.2"/>
<path d="M366.5,523.8 L355.7,520.8499999999999 L356.4,523.8 L355.7,526.75 Z" fill="#231f20"/>
<text x="367.6" y="506.9" font-size="10.8" text-anchor="start" font-weight="normal" >Developmental</text>
<text x="367.6" y="520.63" font-size="10.8" text-anchor="start" font-weight="normal" >analysis</text>
<text x="367.6" y="534.36" font-size="10.8" text-anchor="start" font-weight="normal" >by flow</text>
<text x="367.6" y="548.09" font-size="10.8" text-anchor="start" font-weight="normal" >cytometry</text>
<text x="113" y="551.5" font-size="10.8" text-anchor="start" font-weight="normal" >WT or</text>
<text x="110" y="565.3" font-size="10.8" text-anchor="start" font-weight="normal" >QT3<tspan font-size="9" dy="-4.6" dx="0.5" letter-spacing="0.6">+/–</tspan></text>
<text x="116.9" y="578.9" font-size="10.8" text-anchor="start" font-weight="normal" >mice</text>
<text x="94.4" y="633.5" font-size="13.6" text-anchor="start" font-weight="normal" >Pro-B cell</text>
<line x1="73.0" y1="745.8" x2="73.0" y2="738" stroke="#231f20" stroke-width="1.2"/>
<line x1="68.5" y1="738" x2="77.5" y2="738" stroke="#231f20" stroke-width="1.3"/>
<rect x="63" y="745.8" width="20" height="41.0" fill="#231f20"/>
<line x1="102.5" y1="707.5" x2="102.5" y2="695" stroke="#231f20" stroke-width="1.2"/>
<line x1="98.0" y1="695" x2="107.0" y2="695" stroke="#231f20" stroke-width="1.3"/>
<rect x="92.5" y="707.5" width="20.0" height="79.29999999999995" fill="#231f20"/>
<line x1="132.2" y1="730" x2="132.2" y2="715.7" stroke="#231f20" stroke-width="1.2"/>
<line x1="127.69999999999999" y1="715.7" x2="136.7" y2="715.7" stroke="#231f20" stroke-width="1.3"/>
<rect x="122.1" y="730" width="20.200000000000017" height="56.799999999999955" fill="#231f20"/>
<line x1="161.55" y1="744.2" x2="161.55" y2="740.5" stroke="#231f20" stroke-width="1.2"/>
<line x1="157.05" y1="740.5" x2="166.05" y2="740.5" stroke="#231f20" stroke-width="1.3"/>
<rect x="152.2" y="744.7" width="18.700000000000017" height="42.59999999999991" fill="#39b54a" stroke="#231f20" stroke-width="1"/>
<line x1="191.2" y1="726.7" x2="191.2" y2="723.5" stroke="#231f20" stroke-width="1.2"/>
<line x1="186.7" y1="723.5" x2="195.7" y2="723.5" stroke="#231f20" stroke-width="1.3"/>
<rect x="181.9" y="727.2" width="18.599999999999994" height="60.09999999999991" fill="#39b54a" stroke="#231f20" stroke-width="1"/>
<line x1="220.7" y1="733.5" x2="220.7" y2="722.2" stroke="#231f20" stroke-width="1.2"/>
<line x1="216.2" y1="722.2" x2="225.2" y2="722.2" stroke="#231f20" stroke-width="1.3"/>
<rect x="211.5" y="734.0" width="18.400000000000006" height="53.299999999999955" fill="#39b54a" stroke="#231f20" stroke-width="1"/>
<line x1="53" y1="661.1999999999999" x2="53" y2="787.4499999999999" stroke="#231f20" stroke-width="1.3"/>
<line x1="49" y1="661.8" x2="53" y2="661.8" stroke="#231f20" stroke-width="1.3"/>
<text x="45.199999999999996" y="665.6999999999999" font-size="11" text-anchor="end" font-weight="normal" >0.08</text>
<line x1="49" y1="693.05" x2="53" y2="693.05" stroke="#231f20" stroke-width="1.3"/>
<text x="45.199999999999996" y="696.9499999999999" font-size="11" text-anchor="end" font-weight="normal" >0.06</text>
<line x1="49" y1="724.3" x2="53" y2="724.3" stroke="#231f20" stroke-width="1.3"/>
<text x="45.199999999999996" y="728.1999999999999" font-size="11" text-anchor="end" font-weight="normal" >0.04</text>
<line x1="49" y1="755.55" x2="53" y2="755.55" stroke="#231f20" stroke-width="1.3"/>
<text x="45.199999999999996" y="759.4499999999999" font-size="11" text-anchor="end" font-weight="normal" >0.02</text>
<line x1="49" y1="786.8" x2="53" y2="786.8" stroke="#231f20" stroke-width="1.3"/>
<text x="45.199999999999996" y="790.6999999999999" font-size="11" text-anchor="end" font-weight="normal" >0.00</text>
<line x1="49" y1="786.8" x2="241.4" y2="786.8" stroke="#231f20" stroke-width="1.3"/>
<line x1="73" y1="786.8" x2="73" y2="791.0" stroke="#231f20" stroke-width="1.1"/>
<line x1="102.5" y1="786.8" x2="102.5" y2="791.0" stroke="#231f20" stroke-width="1.1"/>
<line x1="132.1" y1="786.8" x2="132.1" y2="791.0" stroke="#231f20" stroke-width="1.1"/>
<line x1="161.7" y1="786.8" x2="161.7" y2="791.0" stroke="#231f20" stroke-width="1.1"/>
<line x1="190.8" y1="786.8" x2="190.8" y2="791.0" stroke="#231f20" stroke-width="1.1"/>
<line x1="220.4" y1="786.8" x2="220.4" y2="791.0" stroke="#231f20" stroke-width="1.1"/>
<text transform="translate(17.9,746.3) rotate(-90)" font-size="11.8" textLength="45.0" lengthAdjust="spacingAndGlyphs" style="stroke-width:0.25px">Cell # x10<tspan font-size="8.5" dy="-5.0">6</tspan></text>
<text x="27.0" y="804.3" font-size="10.8" text-anchor="start" font-weight="normal" >Media</text>
<text x="73" y="804.3" font-size="10.8" text-anchor="middle" font-weight="normal" >–</text>
<text x="161.7" y="804.3" font-size="10.8" text-anchor="middle" font-weight="normal" >–</text>
<text x="102.5" y="804.3" font-size="10.8" text-anchor="middle" font-weight="normal" >WT</text>
<text x="190.8" y="804.3" font-size="10.8" text-anchor="middle" font-weight="normal" >WT</text>
<text x="117.6" y="804.3" font-size="10.8" text-anchor="start" font-weight="normal" >QT3<tspan font-size="9" dy="-4.6" dx="0.5" letter-spacing="0.6">+/–</tspan></text>
<text x="206.5" y="804.3" font-size="10.8" text-anchor="start" font-weight="normal" >QT3<tspan font-size="9" dy="-4.6" dx="0.5" letter-spacing="0.6">+/–</tspan></text>
<text x="343.2" y="635.2" font-size="13.7" text-anchor="start" font-weight="normal" >Pre-B cell</text>
<line x1="324.05" y1="742.5" x2="324.05" y2="733" stroke="#231f20" stroke-width="1.2"/>
<line x1="319.55" y1="733" x2="328.55" y2="733" stroke="#231f20" stroke-width="1.3"/>
<rect x="313.8" y="742.5" width="20.5" height="45.72000000000003" fill="#231f20"/>
<line x1="353.55" y1="690.8" x2="353.55" y2="683.8" stroke="#231f20" stroke-width="1.2"/>
<line x1="349.05" y1="683.8" x2="358.05" y2="683.8" stroke="#231f20" stroke-width="1.3"/>
<rect x="343.3" y="690.8" width="20.5" height="97.42000000000007" fill="#231f20"/>
<line x1="383.15" y1="733" x2="383.15" y2="720.5" stroke="#231f20" stroke-width="1.2"/>
<line x1="378.65" y1="720.5" x2="387.65" y2="720.5" stroke="#231f20" stroke-width="1.3"/>
<rect x="373" y="733" width="20.30000000000001" height="55.22000000000003" fill="#231f20"/>
<line x1="412.5" y1="742.5" x2="412.5" y2="736.3" stroke="#231f20" stroke-width="1.2"/>
<line x1="408.0" y1="736.3" x2="417.0" y2="736.3" stroke="#231f20" stroke-width="1.3"/>
<rect x="403.0" y="743.0" width="19.0" height="45.72000000000003" fill="#39b54a" stroke="#231f20" stroke-width="1"/>
<line x1="442.25" y1="720" x2="442.25" y2="718.3" stroke="#231f20" stroke-width="1.2"/>
<line x1="437.75" y1="718.3" x2="446.75" y2="718.3" stroke="#231f20" stroke-width="1.3"/>
<rect x="432.5" y="720.5" width="19.5" height="68.22000000000003" fill="#39b54a" stroke="#231f20" stroke-width="1"/>
<line x1="471.8" y1="730" x2="471.8" y2="722.5" stroke="#231f20" stroke-width="1.2"/>
<line x1="467.3" y1="722.5" x2="476.3" y2="722.5" stroke="#231f20" stroke-width="1.3"/>
<rect x="462.3" y="730.5" width="19.0" height="58.22000000000003" fill="#39b54a" stroke="#231f20" stroke-width="1"/>
<line x1="304.5" y1="662.6999999999999" x2="304.5" y2="788.87" stroke="#231f20" stroke-width="1.3"/>
<line x1="300.5" y1="663.3" x2="304.5" y2="663.3" stroke="#231f20" stroke-width="1.3"/>
<text x="296.7" y="667.1999999999999" font-size="11" text-anchor="end" font-weight="normal" >0.20</text>
<line x1="300.5" y1="694.53" x2="304.5" y2="694.53" stroke="#231f20" stroke-width="1.3"/>
<text x="296.7" y="698.43" font-size="11" text-anchor="end" font-weight="normal" >0.15</text>
<line x1="300.5" y1="725.76" x2="304.5" y2="725.76" stroke="#231f20" stroke-width="1.3"/>
<text x="296.7" y="729.66" font-size="11" text-anchor="end" font-weight="normal" >0.10</text>
<line x1="300.5" y1="756.99" x2="304.5" y2="756.99" stroke="#231f20" stroke-width="1.3"/>
<text x="296.7" y="760.89" font-size="11" text-anchor="end" font-weight="normal" >0.05</text>
<line x1="300.5" y1="788.22" x2="304.5" y2="788.22" stroke="#231f20" stroke-width="1.3"/>
<text x="296.7" y="792.12" font-size="11" text-anchor="end" font-weight="normal" >0.00</text>
<line x1="300.5" y1="788.22" x2="492.5" y2="788.22" stroke="#231f20" stroke-width="1.3"/>
<line x1="324.3" y1="788.22" x2="324.3" y2="792.4200000000001" stroke="#231f20" stroke-width="1.1"/>
<line x1="353.8" y1="788.22" x2="353.8" y2="792.4200000000001" stroke="#231f20" stroke-width="1.1"/>
<line x1="383.3" y1="788.22" x2="383.3" y2="792.4200000000001" stroke="#231f20" stroke-width="1.1"/>
<line x1="412.5" y1="788.22" x2="412.5" y2="792.4200000000001" stroke="#231f20" stroke-width="1.1"/>
<line x1="442" y1="788.22" x2="442" y2="792.4200000000001" stroke="#231f20" stroke-width="1.1"/>
<line x1="471.8" y1="788.22" x2="471.8" y2="792.4200000000001" stroke="#231f20" stroke-width="1.1"/>
<text transform="translate(269.7,747.9) rotate(-90)" font-size="12.5" textLength="45.5" lengthAdjust="spacingAndGlyphs" style="stroke-width:0.25px">Cell # x10<tspan font-size="9.0" dy="-5.2">6</tspan></text>
<text x="278.1" y="805.8" font-size="10.8" text-anchor="start" font-weight="normal" >Media</text>
<text x="324.1" y="805.8" font-size="10.8" text-anchor="middle" font-weight="normal" >–</text>
<text x="412.5" y="805.8" font-size="10.8" text-anchor="middle" font-weight="normal" >–</text>
<text x="353.9" y="805.8" font-size="10.8" text-anchor="middle" font-weight="normal" >WT</text>
<text x="442.5" y="805.8" font-size="10.8" text-anchor="middle" font-weight="normal" >WT</text>
<text x="367.6" y="805.8" font-size="10.8" text-anchor="start" font-weight="normal" >QT3<tspan font-size="9" dy="-4.6" dx="0.5" letter-spacing="0.6">+/–</tspan></text>
<text x="458.4" y="805.8" font-size="10.8" text-anchor="start" font-weight="normal" >QT3<tspan font-size="9" dy="-4.6" dx="0.5" letter-spacing="0.6">+/–</tspan></text>
<line x1="318" y1="676.3" x2="348.3" y2="676.3" stroke="#231f20" stroke-width="1.3"/>
<text x="332.5" y="677.68" font-size="11" text-anchor="middle" font-weight="normal" >**</text>
<line x1="351.3" y1="658" x2="468.8" y2="658" stroke="#231f20" stroke-width="1.3"/>
<text x="408.4" y="658.58" font-size="11" text-anchor="middle" font-weight="normal" >**</text>
<line x1="354.5" y1="669.3" x2="411.3" y2="669.3" stroke="#231f20" stroke-width="1.3"/>
<text x="370" y="670.18" font-size="11" text-anchor="middle" font-weight="normal" >**</text>
<line x1="353.8" y1="679.5" x2="387.5" y2="679.5" stroke="#231f20" stroke-width="1.3"/>
<text x="369.4" y="681.38" font-size="11" text-anchor="middle" font-weight="normal" >**</text>
<rect x="419" y="620.6" width="14.800000000000011" height="8.0" fill="#231f20"/>
<rect x="419.4" y="636.2" width="14.0" height="7.199999999999932" fill="#39b54a" stroke="#231f20" stroke-width="0.9"/>
<text x="441.6" y="628" font-size="10.8" text-anchor="start" font-weight="normal" >WT cells</text>
<text x="441.6" y="643.8" font-size="10.8" text-anchor="start" font-weight="normal" >QT3<tspan font-size="9" dy="-4.6" dx="0.5" letter-spacing="0.6">+/–</tspan><tspan dy="4.6"> cells</tspan></text>
</svg></body></html>
